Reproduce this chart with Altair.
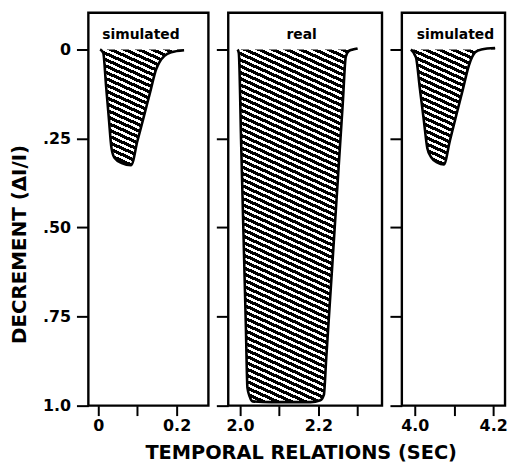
import altair as alt
import pandas as pd

# ---------------- data ----------------
panel_titles = ["simulated", "real", "simulated"]

sim1_t = [0.005, 0.013, 0.020, 0.027, 0.034, 0.042, 0.060, 0.084, 0.100, 0.116,
          0.132, 0.148, 0.156, 0.169, 0.186, 0.219]
sim1_d = [0.0, 0.010, 0.100, 0.190, 0.277, 0.305, 0.319, 0.325, 0.257, 0.190,
          0.122, 0.055, 0.036, 0.018, 0.008, 0.002]

real_t = [1.994, 1.997, 2.003, 2.009, 2.015, 2.019, 2.025, 2.032, 2.080, 2.130,
          2.180, 2.205, 2.214, 2.220, 2.235, 2.250, 2.262, 2.270, 2.278, 2.288, 2.300]
real_d = [0.0, 0.010, 0.266, 0.522, 0.779, 0.950, 0.975, 0.988, 0.990, 0.990,
          0.990, 0.985, 0.970, 0.868, 0.614, 0.359, 0.156, 0.020, 0.004, 0.0, -0.003]

sim2_t = [3.990, 4.003, 4.013, 4.023, 4.032, 4.042, 4.058, 4.074, 4.090, 4.106,
          4.122, 4.138, 4.146, 4.154, 4.170, 4.205]
sim2_d = [0.0, 0.022, 0.110, 0.198, 0.277, 0.303, 0.318, 0.323, 0.254, 0.184,
          0.115, 0.045, 0.022, 0.008, 0.0, -0.004]

x_domains = [[-0.025, 0.281], [1.970, 2.3624], [3.967, 4.2303]]
x_ticks = [[0, 0.1, 0.2], [2.0, 2.1, 2.2, 2.3], [4.0, 4.1, 4.2]]
x_tick_labels = [["0", "", "0.2"], ["2.0", "", "2.2", ""], ["4.0", "", "4.2"]]
y_domain = [-0.103, 1.0]
y_ticks = [0, 0.25, 0.5, 0.75, 1.0]
y_tick_labels = ["0", ".25", ".50", ".75", "1.0"]

# ---------------- layout / style ----------------
WIDTHS = [121, 155, 104]
HEIGHT = 396
TITLE_X_OFFSETS = [53, 74, 54]
FONT = "DejaVu Sans"
HATCH_SLOPE = 0.45      # pixel dy/dx of the hatch lines
HATCH_PERIOD = 6.3      # vertical distance between hatch lines (px)
HATCH_INK = 0.55        # fraction of the period that is black


def label_expr(values, labels):
    return "".join(f"abs(datum.value - ({v})) < 1e-6 ? '{l}' : " for v, l in zip(values, labels)) + "''"


def hatch_fill(w_px, h_px):
    s = HATCH_SLOPE
    gx, gy = -s * w_px / h_px, 1.0
    L2 = gx * gx + gy * gy
    k = (-gx + gy) / L2
    n = (s * w_px + h_px) / HATCH_PERIOD
    stops = []
    i = 0
    while i / n < 1:
        a = i / n
        b = min((i + HATCH_INK) / n, 1)
        c = min((i + 1) / n, 1)
        stops += [{"offset": a, "color": "black"}, {"offset": b, "color": "black"},
                  {"offset": b, "color": "white"}, {"offset": c, "color": "white"}]
        i += 1
    return {"gradient": "linear", "x1": 1, "y1": 0,
            "x2": 1 + k * gx, "y2": k * gy, "stops": stops}


def panel(i, ts, ds):
    df = pd.DataFrame({"t": ts, "d": ds, "base": [0.0] * len(ts)})
    px_x = WIDTHS[i] / (x_domains[i][1] - x_domains[i][0])
    px_y = HEIGHT / (y_domain[1] - y_domain[0])
    w_px = (max(ts) - min(ts)) * px_x
    h_px = (max(ds) - min(min(ds), 0)) * px_y

    x_axis_kw = dict(values=x_ticks[i], labelExpr=label_expr(x_ticks[i], x_tick_labels[i]),
                     tickSize=10, labelPadding=2)
    if i == 1:
        x_axis_kw.update(title="TEMPORAL RELATIONS (SEC)", titleX=73, titleY=38)
    else:
        x_axis_kw.update(title=None)
    y_axis_kw = dict(values=y_ticks, tickSize=12)
    if i == 0:
        y_axis_kw.update(labelExpr=label_expr(y_ticks, y_tick_labels), labelPadding=6,
                         title="DECREMENT (ΔI/I)", titleX=-69, titleY=233,
                         titleBaseline="middle", titleFontSize=20)
    else:
        y_axis_kw.update(labels=False, title=None)

    x = alt.X("t:Q", scale=alt.Scale(domain=x_domains[i], nice=False, zero=False),
              axis=alt.Axis(**x_axis_kw))
    y = alt.Y("d:Q", scale=alt.Scale(domain=y_domain, reverse=True, nice=False, zero=False),
              axis=alt.Axis(**y_axis_kw))

    area = alt.Chart(df).mark_area(fill=hatch_fill(w_px, h_px), interpolate="monotone",
                                   clip=True).encode(x=x, y=y, y2="base:Q")
    line = alt.Chart(df).mark_line(color="black", strokeWidth=2.6, interpolate="monotone",
                                   clip=True).encode(x="t:Q", y="d:Q")
    txt = alt.Chart(pd.DataFrame({"label": [panel_titles[i]]})).mark_text(
        font=FONT, fontSize=14, fontWeight="bold", color="black", baseline="middle",
        align="center").encode(x=alt.value(TITLE_X_OFFSETS[i]), y=alt.value(22), text="label:N")
    return alt.layer(area, line, txt).properties(width=WIDTHS[i], height=HEIGHT)


chart = alt.hconcat(
    panel(0, sim1_t, sim1_d),
    panel(1, real_t, real_d),
    panel(2, sim2_t, sim2_d),
    spacing=20, bounds="flush",
).properties(
    padding={"left": 0, "top": 1, "right": 0, "bottom": 0}
).configure(
    background="white"
).configure_view(
    stroke="black", strokeWidth=2.4
).configure_axis(
    domain=False, grid=False, ticks=True, tickColor="black", tickWidth=2,
    labelFont=FONT, labelFontSize=16, labelFontWeight="bold", labelColor="black",
    titleFont=FONT, titleFontSize=19.5, titleFontWeight="bold", titleColor="black",
)

chart.save("out.html", embed_options={"renderer": "svg", "actions": False})
